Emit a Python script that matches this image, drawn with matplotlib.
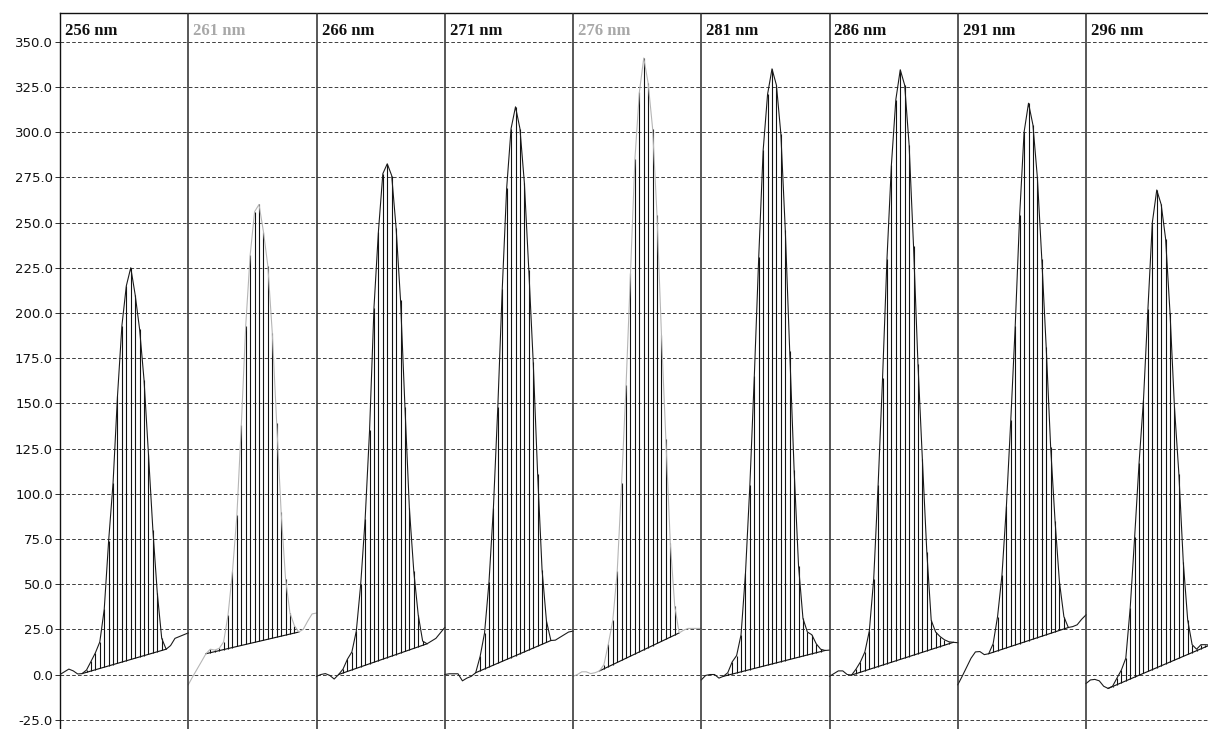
import matplotlib
matplotlib.use('Agg')
import matplotlib.pyplot as plt
import numpy as np

plt.rcParams['lines.scale_dashes'] = False

# ---------------- data ----------------
wavelengths = [256, 261, 266, 271, 276, 281, 286, 291, 296]
faded_wavelengths = [261, 276]

# signal (mAU) sampled at 30 equally spaced times inside each wavelength window
trace_256 = [0, 1.5, 3, 2, 0.3, 0.5, 2.5, 7.2, 12, 18, 36, 74, 106, 154, 193, 215,
             225, 210, 191, 163, 122, 80, 45, 20, 14, 16, 20, 21, 22, 23]
trace_261 = [-5.7, -1.2, 3, 7.2, 11.5, 14, 13.5, 14.5, 18, 33, 57, 88, 138, 193, 232,
             256, 260, 245, 226, 189, 139, 90, 53, 34, 27, 23.5, 25, 29.5, 33.5, 34]
trace_266 = [-1, 0, 0.5, -0.5, -2.5, 0, 3, 8.5, 12.5, 24, 50, 86, 135, 203, 245, 277,
             282.5, 276, 247, 207, 148, 92, 57, 33, 18.5, 17, 18.5, 20, 23, 26]
trace_271 = [0, 0.4, 0.4, 0.4, -3.5, -2, -1, 1, 10, 23, 51, 92, 148, 213, 269, 302,
             314, 302, 272, 224, 173, 111, 58, 29.5, 18.8, 19, 20.5, 22, 23.5, 24]
trace_276 = [-1, 0, 1.5, 1.5, 0.5, 1, 2, 5.5, 17, 30, 57, 106, 160, 222, 285, 322,
             341, 327, 302, 254, 188, 130, 73, 38, 23, 24.5, 25.5, 25.5, 25.5, 25.5]
trace_281 = [-3, -0.5, 0, 0, -2, -1, 1, 7, 10.5, 22, 56, 105, 165, 231, 290, 321,
             335, 326, 299, 246, 179, 113, 60, 31, 23.5, 22, 17, 14, 13.3, 13.5]
trace_286 = [-1, 0.5, 2, 2, 0, -0.3, 3, 7, 12.5, 24, 53, 105, 164, 230, 282, 318,
             334.5, 326, 293, 237, 172, 119, 68, 30, 23.5, 21, 19.2, 18.1, 17.8, 17.6]
trace_291 = [-5.7, -1, 4, 9, 12.5, 12.7, 11, 11.5, 17, 32, 55, 93, 141, 193, 254, 300,
             316, 304, 275, 230, 181, 126, 85, 51, 32, 26, 26.5, 27.5, 30.5, 33]
trace_296 = [-5, -3, -2.7, -3.5, -6.5, -7.7, -6.5, -2, 2.5, 9, 37, 76, 117, 152, 202, 250,
             268, 260, 241, 200, 148, 111, 62, 30, 16.5, 14, 16.5, 16.5, 16.3, 16.5]
traces = [trace_256, trace_261, trace_266, trace_271, trace_276,
          trace_281, trace_286, trace_291, trace_296]

# integration limits (sample index of peak start / end) per window
peak_start = [5, 4, 5, 7, 6, 5, 5, 7, 5]
peak_end = [24, 25, 25, 24, 24, 28, 28, 25, 28]

y_ticks = [-25, 0, 25, 50, 75, 100, 125, 150, 175, 200, 225, 250, 275, 300, 325, 350]

# ---------------- figure ----------------
W, H = 1208, 729
fig = plt.figure(figsize=(W / 100, H / 100), dpi=100)
panel_px = 128.25
ax = fig.add_axes([60 / W, 0, (W - 60) / W, (H - 13) / H])
ax.set_xlim(0, (W - 60) / panel_px)
ax.set_ylim(-30.14, 365.9)

px = 0.72  # one pixel in points

# dashed horizontal grid
for v in y_ticks:
    ax.axhline(v, color='#444444', lw=px, dashes=(2.6, 1.6), zorder=1)

n = len(trace_256)
for k, (wl, tr) in enumerate(zip(wavelengths, traces)):
    t = k + np.arange(n) / (n - 1)
    y = np.asarray(tr, dtype=float)
    s, e = peak_start[k], peak_end[k]
    base = np.interp(t, [t[s], t[e]], [y[s], y[e]])
    # hatching
    for j in range(s + 1, e):
        ax.vlines(t[j], base[j], y[j], color='#111111', lw=px * 1.1, zorder=2)
    # integration baseline
    ax.plot([t[s], t[e]], [y[s], y[e]], color='#111111', lw=px * 1.15, zorder=3)
    faded = wl in faded_wavelengths
    ax.plot(t, y, color='#b5b5b5' if faded else '#1a1a1a', lw=px * 1.1, zorder=4)
    ax.text(k + 5 / panel_px, 354.0, f"{wl} nm", fontfamily='Liberation Serif',
            fontweight='bold', fontsize=12, va='baseline', ha='left',
            color='#a8a8a8' if faded else '#111111', zorder=6)

# window separators
for k in range(1, len(wavelengths)):
    ax.axvline(k, color='#2a2a2a', lw=1.1, zorder=5)

for side in ['right', 'bottom']:
    ax.spines[side].set_visible(False)
for side in ['left', 'top']:
    ax.spines[side].set_color('#111111')
    ax.spines[side].set_linewidth(1.0)

ax.set_xticks([])
ax.set_yticks(y_ticks)
ax.set_yticklabels([f"{v:.1f}" for v in y_ticks])
ax.tick_params(axis='y', direction='out', length=3.5, width=px, color='#333333',
               labelsize=9.5, pad=1.5, labelcolor='#111111')

fig.savefig('out.png', dpi=100)
